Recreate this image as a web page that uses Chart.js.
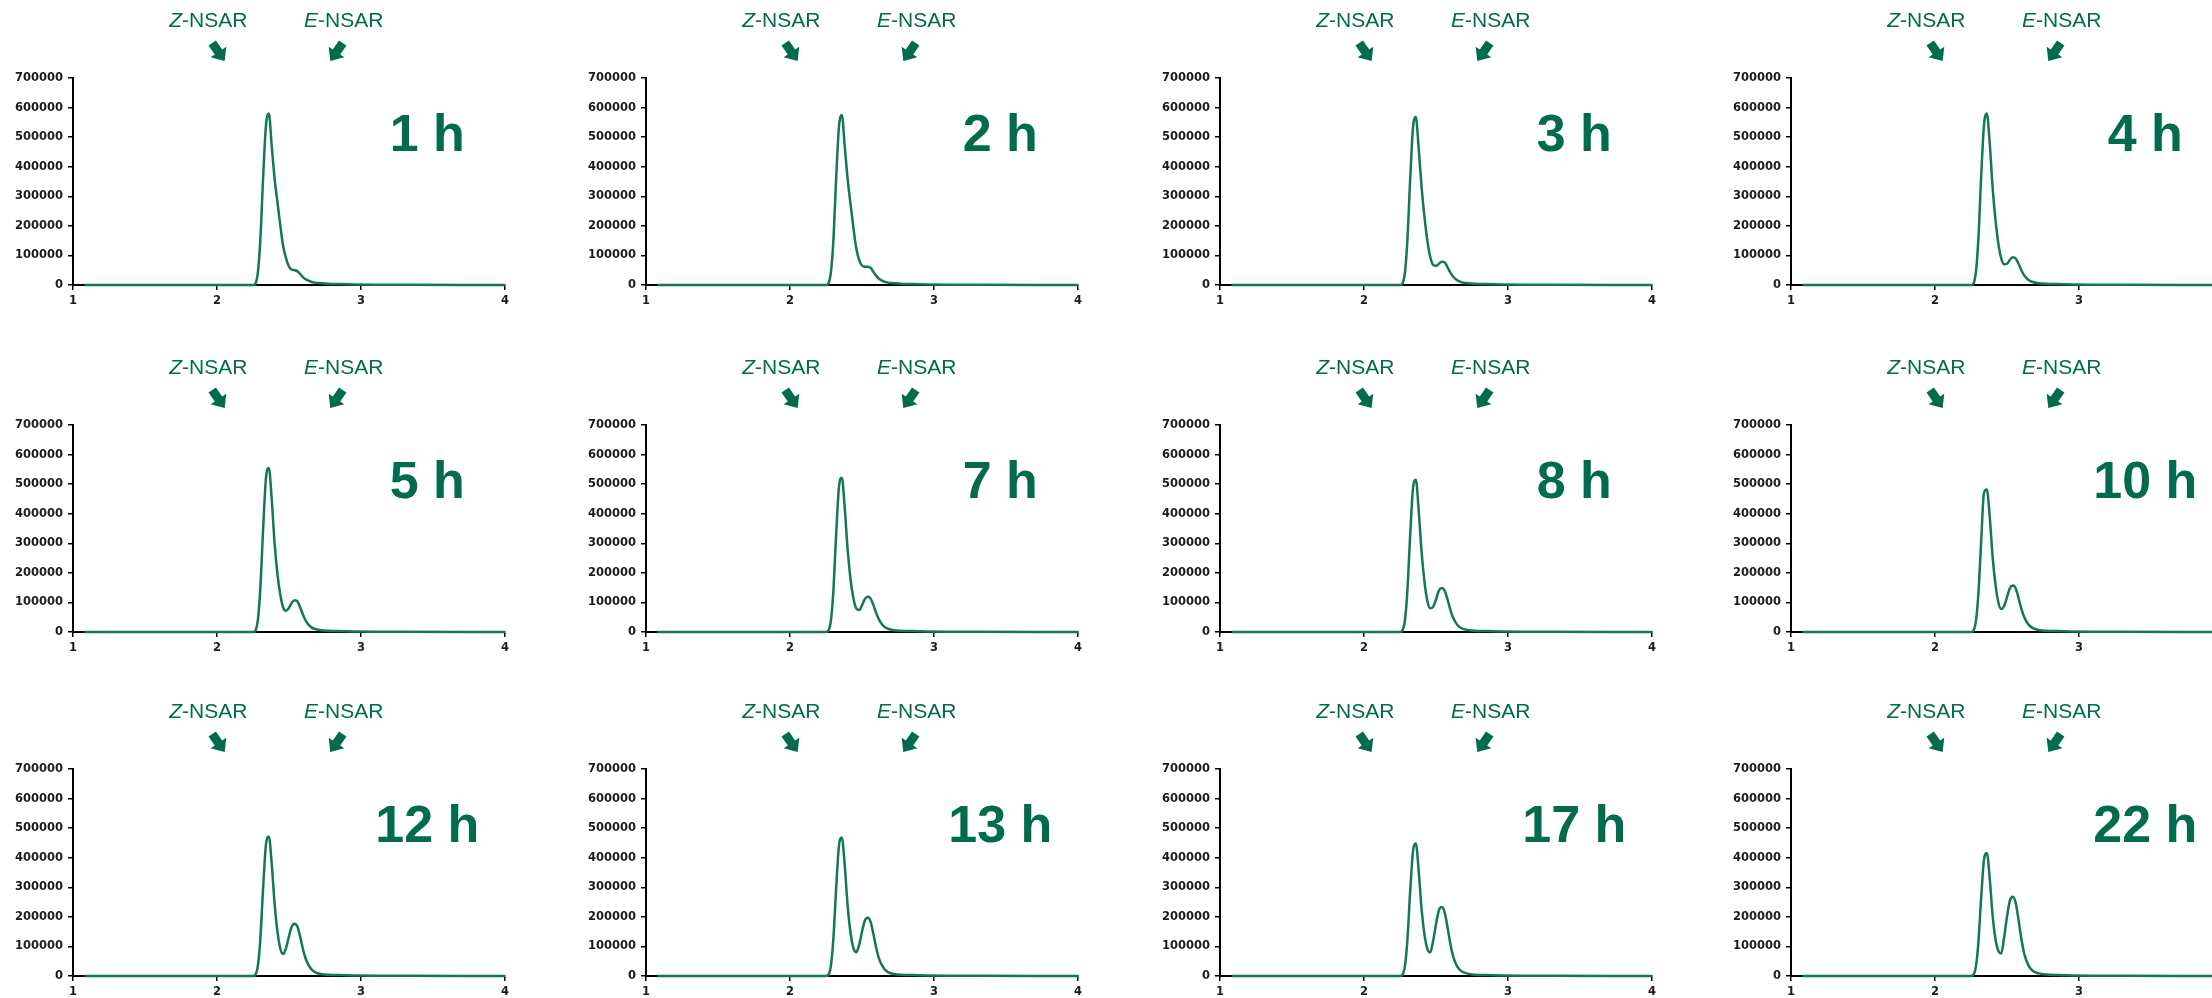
<!DOCTYPE html>
<html>
<head>
<meta charset="utf-8">
<script src="https://cdn.jsdelivr.net/npm/chart.js@4.4.1/dist/chart.umd.min.js"></script>
<style>
  html, body { margin: 0; padding: 0; background: #fff; overflow: hidden; }
  body { width: 2212px; height: 998px; position: relative; }
  canvas { position: absolute; }
</style>
</head>
<body>
<script>
// retention time (min) shared by every trace
const retentionTime = [1.08, 2.0, 2.25, 2.28, 2.30, 2.32, 2.34, 2.36, 2.38, 2.40, 2.42, 2.44, 2.46, 2.48, 2.50, 2.52, 2.54, 2.56, 2.58, 2.60, 2.62, 2.65, 2.68, 2.72, 2.77, 2.85, 2.95, 3.1, 3.3, 4.0];

const h1  = [0, 0, 0, 29000, 145000, 360000, 540000, 580000, 470000, 360000, 280000, 200000, 130000, 90000, 62000, 52000, 50000, 46000, 36000, 25000, 18000, 12000, 8000, 6000, 4000, 3000, 2000, 1000, 500, 0];
const h2  = [0, 0, 0, 29000, 140000, 355000, 535000, 575000, 470000, 360000, 275000, 195000, 125000, 85000, 66000, 62000, 62000, 58000, 44000, 30000, 20000, 12000, 8000, 6000, 4000, 3000, 2000, 1000, 500, 0];
const h3  = [0, 0, 0, 28000, 140000, 350000, 530000, 568000, 460000, 330000, 230000, 150000, 95000, 68000, 65000, 72000, 79000, 77000, 60000, 42000, 28000, 15000, 9000, 6000, 4000, 3000, 2000, 1000, 500, 0];
const h4  = [0, 0, 0, 29000, 145000, 360000, 540000, 580000, 480000, 330000, 220000, 140000, 90000, 70000, 72000, 85000, 94000, 90000, 72000, 50000, 32000, 17000, 10000, 6000, 4000, 3000, 2000, 1000, 500, 0];
const h5  = [0, 0, 0, 28000, 140000, 345000, 520000, 555000, 450000, 300000, 195000, 125000, 82000, 72000, 82000, 100000, 107000, 102000, 80000, 55000, 35000, 18000, 10000, 6000, 4000, 3000, 2000, 1000, 500, 0];
const h7  = [0, 0, 0, 26000, 130000, 325000, 490000, 522000, 420000, 280000, 180000, 115000, 80000, 74000, 90000, 112000, 119000, 113000, 90000, 62000, 40000, 20000, 11000, 6000, 4000, 3000, 2000, 1000, 500, 0];
const h8  = [0, 0, 0, 26000, 130000, 320000, 485000, 515000, 410000, 270000, 170000, 105000, 80000, 85000, 110000, 140000, 149000, 140000, 110000, 75000, 47000, 23000, 12000, 7000, 4000, 3000, 2000, 1000, 500, 0];
const h10 = [0, 0, 0, 24000, 120000, 300000, 470000, 482000, 390000, 255000, 160000, 100000, 78000, 88000, 118000, 148000, 157000, 148000, 115000, 78000, 50000, 25000, 13000, 7000, 4000, 3000, 2000, 1000, 500, 0];
const h12 = [0, 0, 0, 24000, 118000, 295000, 445000, 472000, 380000, 245000, 150000, 92000, 74000, 95000, 135000, 168000, 177000, 165000, 128000, 85000, 53000, 26000, 13000, 7000, 4000, 3000, 2000, 1000, 500, 0];
const h13 = [0, 0, 0, 23000, 117000, 292000, 440000, 468000, 375000, 240000, 148000, 95000, 80000, 105000, 150000, 188000, 197000, 183000, 140000, 92000, 56000, 27000, 13000, 7000, 4000, 3000, 2000, 1000, 500, 0];
const h17 = [0, 0, 0, 22000, 112000, 280000, 420000, 448000, 355000, 225000, 140000, 92000, 80000, 118000, 175000, 222000, 233000, 215000, 165000, 108000, 65000, 30000, 15000, 8000, 4000, 3000, 2000, 1000, 500, 0];
const h22 = [0, 0, 0, 21000, 105000, 260000, 392000, 416000, 330000, 205000, 125000, 85000, 76000, 130000, 200000, 255000, 268000, 248000, 190000, 125000, 75000, 35000, 17000, 9000, 5000, 3000, 2000, 1000, 500, 0];

const traces = [h1, h2, h3, h4, h5, h7, h8, h10, h12, h13, h17, h22];
const timeLabels = ['1 h', '2 h', '3 h', '4 h', '5 h', '7 h', '8 h', '10 h', '12 h', '13 h', '17 h', '22 h'];

// page layout (pixel position of each plot's y axis / top)
const colLeft = [73, 646, 1220, 1791];
const rowTop = [78, 425, 769];
const plotW = 432;
const plotH = 207;
const axisW = 72;
const headH = 78;
const footH = 30;

const GREEN = '#006b4d';
const LINE = '#14765b';

const tickFont = { family: '"DejaVu Sans", Verdana, sans-serif', size: 11.5, weight: 'bold' };

function drawIsomer(ctx, letter, cx, cy) {
  const italic = 'italic 21px "Liberation Sans", Arial, sans-serif';
  const normal = '21px "Liberation Sans", Arial, sans-serif';
  ctx.font = italic;
  const w1 = ctx.measureText(letter).width;
  ctx.font = normal;
  const w2 = ctx.measureText('-NSAR').width;
  const x = cx - (w1 + w2) / 2;
  ctx.textAlign = 'left';
  ctx.font = italic;
  ctx.fillText(letter, x, cy);
  ctx.font = normal;
  ctx.fillText('-NSAR', x + w1, cy);
}

function drawArrow(ctx, cx, cy, angle) {
  ctx.save();
  ctx.translate(cx, cy);
  ctx.rotate(angle);
  ctx.beginPath();
  ctx.moveTo(-4.5, -11);
  ctx.lineTo(4.5, -11);
  ctx.lineTo(4.5, 0);
  ctx.lineTo(9.5, 0);
  ctx.lineTo(0, 11);
  ctx.lineTo(-9.5, 0);
  ctx.lineTo(-4.5, 0);
  ctx.closePath();
  ctx.fill();
  ctx.restore();
}

const nsarLabels = {
  id: 'nsarLabels',
  afterDraw(chart, args, opts) {
    const { ctx, chartArea, scales } = chart;
    const xs = scales.x;
    const top = chartArea.top;
    ctx.save();
    ctx.fillStyle = GREEN;
    ctx.textBaseline = 'middle';
    drawIsomer(ctx, 'Z', xs.getPixelForValue(1.94), top - 57);
    drawIsomer(ctx, 'E', xs.getPixelForValue(2.88), top - 57);
    drawArrow(ctx, xs.getPixelForValue(2.01), top - 26, -0.6);
    drawArrow(ctx, xs.getPixelForValue(2.83), top - 26, 0.6);
    ctx.font = 'bold 52px "Liberation Sans", Arial, sans-serif';
    ctx.textAlign = 'center';
    ctx.textBaseline = 'alphabetic';
    ctx.fillText(opts.label, xs.getPixelForValue(3.46), top + 73);
    ctx.restore();
  }
};

function axisOpts() {
  return {
    grid: { display: true, drawOnChartArea: false, drawTicks: true, tickLength: 5, color: '#000', lineWidth: 1.5 },
    border: { display: true, color: '#000', width: 2 }
  };
}

function buildPanel(i) {
  const col = i % 4;
  const row = Math.floor(i / 4);
  const canvas = document.createElement('canvas');
  const w = axisW + plotW + 12;
  const h = headH + plotH + footH;
  canvas.width = w;
  canvas.height = h;
  canvas.style.left = (colLeft[col] - axisW) + 'px';
  canvas.style.top = (rowTop[row] - headH) + 'px';
  canvas.style.width = w + 'px';
  canvas.style.height = h + 'px';
  document.body.appendChild(canvas);

  const ys = traces[i];
  new Chart(canvas, {
    type: 'line',
    data: {
      datasets: [{
        data: retentionTime.map((x, k) => ({ x: x, y: ys[k] })),
        borderColor: LINE,
        borderWidth: 2.5,
        pointRadius: 0,
        cubicInterpolationMode: 'monotone',
        fill: false,
        clip: 6
      }]
    },
    options: {
      responsive: false,
      animation: false,
      devicePixelRatio: 1,
      layout: { padding: { top: headH, right: 12, left: 0, bottom: 0 } },
      plugins: {
        legend: { display: false },
        tooltip: { enabled: false },
        nsarLabels: { label: timeLabels[i] }
      },
      scales: {
        x: {
          type: 'linear', min: 1, max: 4,
          ticks: { stepSize: 1, padding: 4, color: '#1a1a1a', font: tickFont, callback: (v) => String(v) },
          ...axisOpts(),
          afterFit: (s) => { s.height = footH; }
        },
        y: {
          min: 0, max: 700000,
          ticks: { stepSize: 100000, padding: 5, color: '#1a1a1a', font: tickFont, callback: (v) => String(v) },
          ...axisOpts(),
          afterFit: (s) => { s.width = axisW; }
        }
      }
    },
    plugins: [nsarLabels]
  });
}

for (let i = 0; i < traces.length; i++) buildPanel(i);
</script>
</body>
</html>
